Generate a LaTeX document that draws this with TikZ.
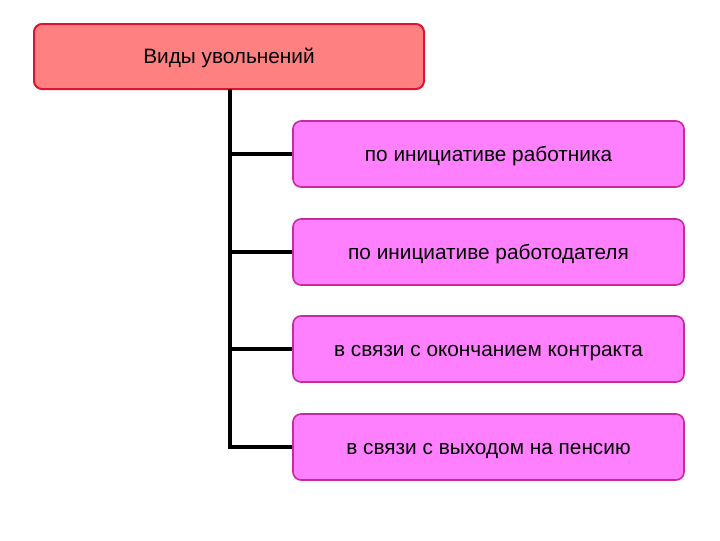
\documentclass[tikz,border=0pt]{standalone}
\usepackage{fontspec}
\setmainfont{Liberation Sans}
\definecolor{headfill}{RGB}{255,128,128}
\definecolor{headline}{RGB}{220,20,50}
\definecolor{kindfill}{RGB}{255,128,255}
\definecolor{kindline}{RGB}{200,40,160}

\begin{document}
\begin{tikzpicture}[x=0.75pt, y=-0.75pt,
    boxtext/.style={font=\fontsize{15.6}{18}\selectfont, text height=11.2pt, text depth=0pt},
    head/.style={boxtext, draw=headline, fill=headfill, line width=1.5pt, rounded corners=6pt,
                 minimum width=390*0.75pt, minimum height=65*0.75pt},
    kind/.style={boxtext, draw=kindline, fill=kindfill, line width=1.2pt, rounded corners=6pt,
                 minimum width=391*0.75pt, minimum height=66*0.75pt},
    link/.style={line width=2.6pt, line cap=butt}]
  \useasboundingbox (0,0) rectangle (720,540);
  % the root and the four kinds, one under another
  \node[head] (root) at (229,56.5) {Виды увольнений};
  \node[kind] (k1) at (488.5,154) {по инициативе работника};
  \node[kind] (k2) at (488.5,252) {по инициативе работодателя};
  \node[kind] (k3) at (488.5,349) {в связи с окончанием контракта};
  \node[kind] (k4) at (488.5,447) {в связи с выходом на пенсию};

  % the trunk and its branches
  \coordinate (trunk) at (230,89);
  \draw[link] (trunk) |- (k4.west);
  \foreach \k in {k1,k2,k3}
    \draw[link] (trunk |- \k.west) -- (\k.west);
\end{tikzpicture}
\end{document}
